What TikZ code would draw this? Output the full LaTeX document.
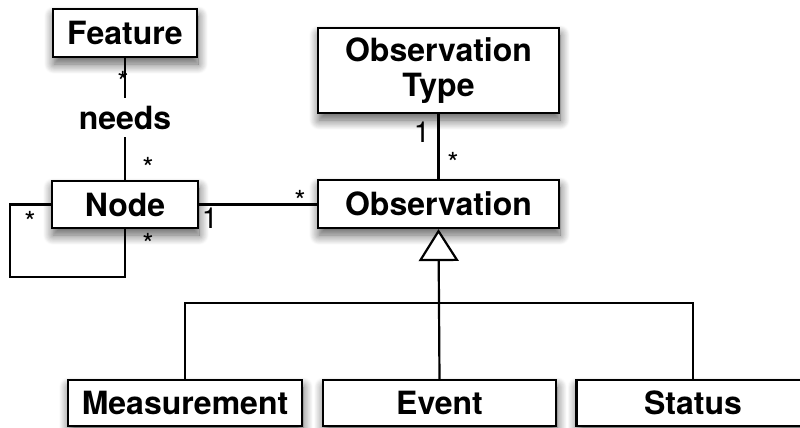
\documentclass[tikz,border=0pt]{standalone}
\usepackage{fontspec}
\setmainfont{TeX Gyre Heros}
\usetikzlibrary{arrows.meta,shadows.blur}
\begin{document}
\begin{tikzpicture}[x=0.5pt,y=-0.5pt,
  cls/.style={draw=black, line width=1.1pt, fill=white, align=center,
    font=\fontsize{16}{17.5}\selectfont\bfseries, inner sep=0pt,
    blur shadow={shadow xshift=0.5pt, shadow yshift=-3.5pt, shadow blur radius=5pt,
      shadow blur steps=12, shadow opacity=65}},
  conn/.style={line width=1.1pt, draw=black, line join=miter},
  mult/.style={font=\fontsize{14.5}{14.5}\selectfont, inner sep=0pt, anchor=base},
]
\useasboundingbox (0,0) rectangle (800,428);

% classes
\node[cls, minimum width=72pt, minimum height=24pt] (feature) at (125,33) {Feature};
\node[cls, minimum width=73pt, minimum height=23.5pt] (node) at (125,204.5) {Node};
\node[cls, minimum width=120.5pt, minimum height=42.5pt] (obstype) at (438.5,70.5) {Observation\\Type};
\node[cls, minimum width=120.5pt, minimum height=24pt] (obs) at (438.5,204) {Observation};
\node[cls, minimum width=117pt, minimum height=23pt] (meas) at (185,403) {Measurement};
\node[cls, minimum width=116.5pt, minimum height=23pt] (event) at (439.5,403) {Event};
\node[cls, minimum width=116.5pt, minimum height=23pt] (status) at (693,403) {Status};

% helper coordinates
\coordinate (loopL) at (10,277);
\coordinate (bar) at (439,303);

% Feature -- Node (needs)
\draw[conn] (feature.south) -- (node.north);
\node[fill=white, inner sep=0pt, minimum width=48pt, minimum height=19.5pt,
  font=\fontsize{16}{17.5}\selectfont\bfseries] (needs) at (125,117.5) {needs};

% self association on Node
\draw[conn] (node.west) -- (node.west -| loopL) -- (loopL) -- (loopL -| node.south) -- (node.south);

% Node -- Observation
\draw[conn] (node.east) -- (node.east -| obs.west);

% Observation Type -- Observation
\draw[conn] (obstype.south) -- (obs.north);

% generalization
\draw[conn] (meas.north) -- (meas.north |- bar) -- (status.north |- bar) -- (status.north);
\draw[conn, -{Triangle[fill=white, length=16pt, width=20pt, line width=1.1pt]}] (event.north) -- (obs.south);

% multiplicities
\node[mult] (m1) at (123,92) {*};
\node[mult] (m2) at (148,178) {*};
\node[mult] (m3) at (30,232) {*};
\node[mult] (m4) at (148,254) {*};
\node[mult] (m5) at (210,228) {1};
\node[mult] (m6) at (300,212) {*};
\node[mult] (m7) at (422,142) {1};
\node[mult] (m8) at (453,173) {*};
\end{tikzpicture}
\end{document}
